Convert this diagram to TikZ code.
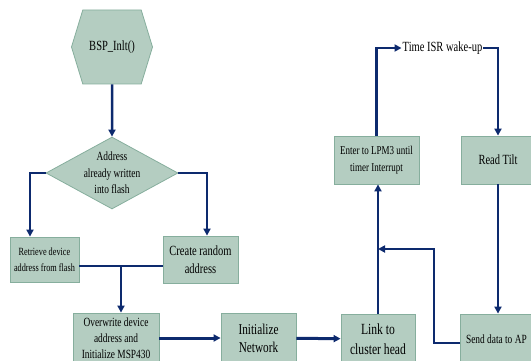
\documentclass[tikz,border=0pt]{standalone}
\usepackage{fontspec}
\setmainfont{Liberation Serif}[FakeStretch=0.75]
\usepackage{tikz}
\usetikzlibrary{shapes.geometric,shapes.symbols,arrows.meta,positioning}

\definecolor{boxfill}{HTML}{B4CDC1}
\definecolor{boxedge}{HTML}{86AE9D}
\definecolor{flowblue}{HTML}{0D2A6E}

\tikzset{
  blk/.style={draw=boxedge, fill=boxfill, line width=0.8pt, align=center, inner sep=0pt},
  flow/.style={->, draw=flowblue, line width=2.5pt},
  fs/.style 2 args={font=\fontsize{#1}{#2}\selectfont}
}

\begin{document}
\begin{tikzpicture}[x=1pt,y=-1pt,>={Triangle[length=7pt,width=7pt]}]
  \useasboundingbox (0,0) rectangle (531,361);
  \clip (0,0) rectangle (531,361);

  % left column
  \node [blk, signal, signal to=east and west, signal pointer angle=146,
         minimum width=81pt, minimum height=74pt, fs={14}{17}] (bsp) at (112,47) {BSP\_Inlt()};
  \node [blk, diamond, aspect=1.83, inner sep=-3pt, minimum width=132pt, minimum height=72pt,
         fs={12.5}{16.5}] (addr) at (112,173) {Address\\already written\\into flash};
  \node [blk, minimum width=69pt, minimum height=45pt, fs={11}{16}] (retr) at (44.5,259.5)
        {Retrieve device\\address from flash};
  \node [blk, minimum width=75pt, minimum height=47pt, fs={14}{18}] (rand) at (200.5,259.5)
        {Create random\\address};
  \node [blk, minimum width=86pt, minimum height=50pt, fs={12.5}{16}] (over) at (116,338)
        {Overwrite device\\address and\\Initialize MSP430};

  % bottom row
  \node [blk, minimum width=75pt, minimum height=50pt, fs={15}{18}] (net) at (258.5,338)
        {Initialize\\Network};
  \node [blk, minimum width=74pt, minimum height=50pt, fs={15.5}{20}] (link) at (378,339)
        {Link to\\cluster head};
  \node [blk, minimum width=72pt, minimum height=50pt, anchor=west, fs={12.5}{16}] (send)
        at (460,339) {Send data to AP};

  % top row
  \node [blk, minimum width=85pt, minimum height=48pt, fs={12}{17}] (lpm) at (376.5,160)
        {Enter to LPM3 until\\timer Interrupt};
  \node [blk, minimum width=74pt, minimum height=48pt, fs={14}{18}] (tilt) at (498,160)
        {Read Tilt};
  \node [inner sep=1pt, fs={14}{17}] (wake) at (442.5,48) {Time ISR wake-up};

  \coordinate (merge) at (121,266);
  \coordinate (back) at (434,249);

  \draw [flow] (bsp) -- (addr);
  \draw [flow] (addr.west) -| ([xshift=-14.5pt]retr.north);
  \draw [flow] (addr.east) -| ([xshift=6.5pt]rand.north);
  \draw [flow, -] ([yshift=-6.5pt]retr.east) -- ([yshift=-6.5pt]rand.west);
  \draw [flow] (merge) -- (merge |- over.north);
  \draw [flow, line width=3pt] (over) -- (net);
  \draw [flow, line width=3pt] (net) -- (link);
  \draw [flow, line width=2pt] (link.north) -- (link.north |- lpm.south);
  \draw [flow] (lpm.north) |- (wake.west);
  \draw [flow] (wake.east) -| (tilt.north);
  \draw [flow, line width=2pt] (tilt.south) -- (tilt.south |- send.north);
  \draw [flow] ([yshift=-4pt]send.west) -| (back) -- (back -| link.north);
\end{tikzpicture}
\end{document}
